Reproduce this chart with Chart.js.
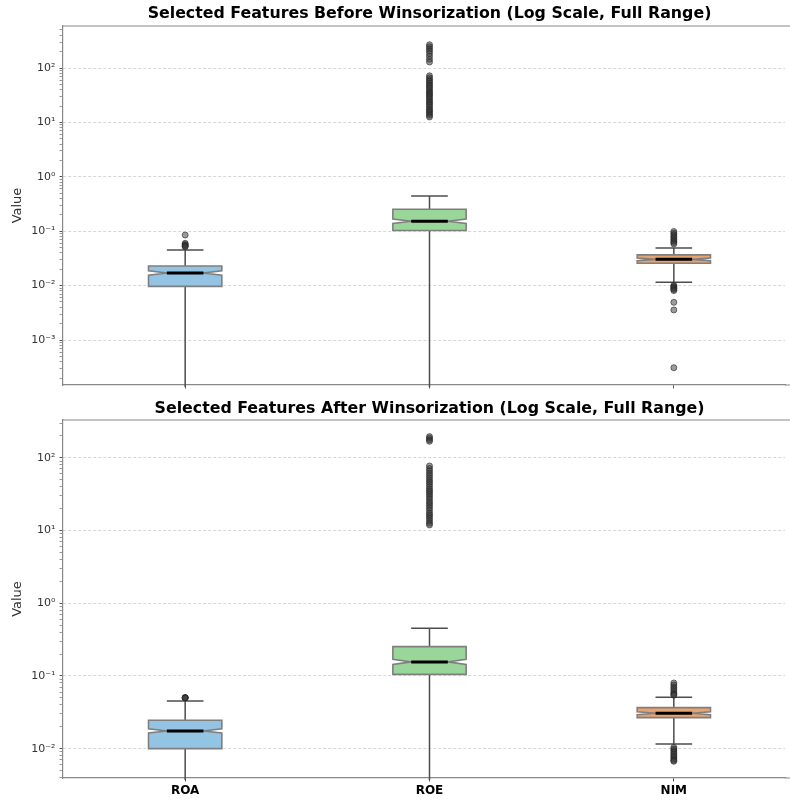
<!DOCTYPE html>
<html>
<head>
<meta charset="utf-8">
<script src="https://cdn.jsdelivr.net/npm/chart.js@4.4.1/dist/chart.umd.min.js"></script>
<style>
  html, body { margin: 0; padding: 0; background: #fff; overflow: hidden; }
  canvas { display: block; }
</style>
</head>
<body>
<canvas id="beforeChart" width="790" height="397"></canvas>
<canvas id="afterChart" width="790" height="403"></canvas>
<script>
// Kategori fitur
const features = ['ROA', 'ROE', 'NIM'];

// Statistik box sebelum winsorization
const beforeQ1 = [0.0097, 0.103, 0.0257];
const beforeMedian = [0.0171, 0.153, 0.0304];
const beforeQ3 = [0.023, 0.254, 0.0367];
const beforeNotchLo = [0.0156, 0.139, 0.0287];
const beforeNotchHi = [0.0188, 0.168, 0.0322];
const beforeWhiskerLo = [0.000001, 0.000001, 0.0115];
const beforeWhiskerHi = [0.0453, 0.446, 0.0493];

// Outlier sebelum winsorization
const beforeOutROA = [0.085, 0.06, 0.057, 0.055, 0.053, 0.052];
const beforeOutROE = [268, 245, 225, 205, 185, 165, 145, 129, 72, 66, 61, 57, 53, 49, 46, 43, 40, 37, 35,
    33, 31, 29, 27, 25, 23.5, 22, 20.5, 19, 17.5, 16.5, 15.5, 14.5, 13.5, 12.6];
const beforeOutNIM = [0.099, 0.092, 0.086, 0.08, 0.075, 0.07, 0.066, 0.062, 0.0584,
    0.0101, 0.0097, 0.0093, 0.0089, 0.0085, 0.0081, 0.00493, 0.00357, 0.00031];

// Statistik box sesudah winsorization
const afterQ1 = [0.01, 0.105, 0.0267];
const afterMedian = [0.0175, 0.156, 0.0307];
const afterQ3 = [0.0246, 0.253, 0.0366];
const afterNotchLo = [0.0164, 0.144, 0.0293];
const afterNotchHi = [0.0187, 0.169, 0.0322];
const afterWhiskerLo = [0.000001, 0.000001, 0.0116];
const afterWhiskerHi = [0.0453, 0.453, 0.0509];

// Outlier sesudah winsorization
const afterOutROA = [0.0505, 0.0502, 0.05, 0.0498];
const afterOutROE = [195, 185, 176, 168, 77, 71, 66, 61, 57, 53, 49, 46, 43, 40, 37, 35, 33, 31, 29,
    27, 25, 23.5, 22, 20.5, 19, 17.5, 16.5, 15.5, 14.5, 13.5, 12.6, 11.9];
const afterOutNIM = [0.08, 0.075, 0.07, 0.066, 0.062, 0.058, 0.056, 0.0543,
    0.0104, 0.0099, 0.0094, 0.0089, 0.0084, 0.008, 0.0076, 0.0072, 0.0069, 0.0067];

const boxFill = ['#93c4e4', '#9ad69a', '#e8a36e'];
const boxWidth = 0.3;
const FONT = 'DejaVu Sans';

const supMap = { '-': '\u207B', '0': '\u2070', '1': '\u00B9', '2': '\u00B2', '3': '\u00B3',
    '4': '\u2074', '5': '\u2075', '6': '\u2076', '7': '\u2077', '8': '\u2078', '9': '\u2079' };
function sup(n) {
    return String(n).split('').map(c => supMap[c]).join('');
}

// Plugin untuk menggambar box bernotch dan judul
function boxPlugin(stats, title, titleY) {
    return {
        id: 'notchedBoxes',
        beforeDatasetsDraw(chart) {
            const { ctx, chartArea: a, scales: { x, y } } = chart;
            ctx.save();
            ctx.beginPath();
            ctx.rect(a.left, a.top, a.right - a.left, a.bottom - a.top + 2);
            ctx.clip();
            stats.median.forEach((m, i) => {
                const pos = i + 1;
                const cx = x.getPixelForValue(pos);
                const hw = x.getPixelForValue(pos + boxWidth / 2) - cx;
                const nw = hw / 2;
                const pq1 = y.getPixelForValue(stats.q1[i]);
                const pq3 = y.getPixelForValue(stats.q3[i]);
                const pm = y.getPixelForValue(m);
                const pnl = y.getPixelForValue(stats.notchLo[i]);
                const pnh = y.getPixelForValue(stats.notchHi[i]);
                const pwl = y.getPixelForValue(stats.whiskerLo[i]);
                const pwh = y.getPixelForValue(stats.whiskerHi[i]);

                // whisker
                ctx.strokeStyle = '#4d4d4d';
                ctx.lineWidth = 1.5;
                ctx.beginPath();
                ctx.moveTo(cx, pq1); ctx.lineTo(cx, pwl);
                ctx.moveTo(cx, pq3); ctx.lineTo(cx, pwh);
                ctx.moveTo(cx - nw, pwl); ctx.lineTo(cx + nw, pwl);
                ctx.moveTo(cx - nw, pwh); ctx.lineTo(cx + nw, pwh);
                ctx.stroke();

                // box
                ctx.beginPath();
                ctx.moveTo(cx - hw, pq1);
                ctx.lineTo(cx + hw, pq1);
                ctx.lineTo(cx + hw, pnl);
                ctx.lineTo(cx + nw, pm);
                ctx.lineTo(cx + hw, pnh);
                ctx.lineTo(cx + hw, pq3);
                ctx.lineTo(cx - hw, pq3);
                ctx.lineTo(cx - hw, pnh);
                ctx.lineTo(cx - nw, pm);
                ctx.lineTo(cx - hw, pnl);
                ctx.closePath();
                ctx.fillStyle = boxFill[i];
                ctx.fill();
                ctx.strokeStyle = '#7f7f7f';
                ctx.lineWidth = 1.6;
                ctx.stroke();

                // median
                ctx.strokeStyle = '#000';
                ctx.lineWidth = 3;
                ctx.beginPath();
                ctx.moveTo(cx - nw, pm);
                ctx.lineTo(cx + nw, pm);
                ctx.stroke();
            });
            ctx.restore();
        },
        afterDraw(chart) {
            const { ctx, chartArea: a, scales: { x } } = chart;
            ctx.save();
            ctx.strokeStyle = '#888';
            ctx.lineWidth = 1.2;
            ctx.beginPath();
            ctx.moveTo(a.left, a.top);
            ctx.lineTo(chart.width, a.top);
            ctx.moveTo(a.right, a.bottom);
            ctx.lineTo(chart.width, a.bottom);
            ctx.stroke();
            // judul di tengah sumbu x (0.5 - 3.5)
            const cx = (x.getPixelForValue(0.5) + x.getPixelForValue(3.5)) / 2;
            ctx.fillStyle = '#000';
            ctx.font = 'bold 15.8px "DejaVu Sans"';
            ctx.textAlign = 'center';
            ctx.textBaseline = 'middle';
            ctx.fillText(title, cx, titleY);
            ctx.restore();
        }
    };
}

function buildPanel(id, title, stats, outliers, yMin, yMax, showLabels, topPad, titleY, xHeight) {
    const points = [];
    outliers.forEach((list, i) => {
        list.forEach(v => points.push({ x: i + 1, y: v }));
    });

    new Chart(document.getElementById(id), {
        type: 'scatter',
        data: {
            datasets: [{
                data: points,
                pointRadius: 3,
                pointBackgroundColor: 'rgba(55,55,55,0.5)',
                pointBorderColor: 'rgba(35,35,35,0.6)',
                pointBorderWidth: 1
            }]
        },
        options: {
            responsive: false,
            animation: false,
            layout: { padding: { left: 0, right: 0, top: topPad, bottom: 0 } },
            plugins: {
                legend: { display: false },
                tooltip: { enabled: false },
                title: { display: false }
            },
            scales: {
                x: {
                    type: 'linear',
                    min: 0.5,
                    max: 3.455,
                    afterBuildTicks: s => { s.ticks = features.map((f, i) => ({ value: i + 1 })); },
                    afterFit: s => { s.height = xHeight; },
                    grid: {
                        color: 'rgba(0,0,0,0)',
                        drawOnChartArea: false,
                        drawTicks: true,
                        tickLength: 3.5,
                        tickColor: '#555'
                    },
                    border: { display: true, color: '#888', width: 1.2 },
                    ticks: {
                        padding: 2,
                        color: '#000',
                        font: { family: FONT, size: 12, weight: 'bold' },
                        callback: v => showLabels ? features[v - 1] : ''
                    }
                },
                y: {
                    type: 'logarithmic',
                    min: yMin,
                    max: yMax,
                    afterBuildTicks: s => {
                        const t = [];
                        for (let e = -5; e <= 3; e++) {
                            for (let m = 1; m <= 9; m++) {
                                const v = m * Math.pow(10, e);
                                if (v >= yMin && v <= yMax) t.push({ value: v, major: m === 1, exp: e });
                            }
                        }
                        s.ticks = t;
                    },
                    afterFit: s => { s.width = 63; },
                    title: {
                        display: true,
                        text: 'Value',
                        color: '#333',
                        font: { family: FONT, size: 13 },
                        padding: { top: 10, bottom: 0 }
                    },
                    grid: {
                        color: c => (c.tick && c.tick.major) ? '#cccccc' : 'rgba(0,0,0,0)',
                        lineWidth: 0.8,
                        drawTicks: true,
                        tickLength: 3.5,
                        tickColor: '#555',
                        tickWidth: c => (c.tick && c.tick.major) ? 1 : 0.6
                    },
                    border: { display: true, color: '#888', width: 1.2, dash: [3, 2] },
                    ticks: {
                        autoSkip: false,
                        padding: 4,
                        color: '#333',
                        font: { family: FONT, size: 11 },
                        callback: (v, i, ticks) => ticks[i].major ? '10' + sup(ticks[i].exp) : ''
                    }
                }
            }
        },
        plugins: [boxPlugin(stats, title, titleY)]
    });
}

document.addEventListener('DOMContentLoaded', function () {
    buildPanel('beforeChart', 'Selected Features Before Winsorization (Log Scale, Full Range)',
        { q1: beforeQ1, median: beforeMedian, q3: beforeQ3, notchLo: beforeNotchLo, notchHi: beforeNotchHi,
          whiskerLo: beforeWhiskerLo, whiskerHi: beforeWhiskerHi },
        [beforeOutROA, beforeOutROE, beforeOutNIM],
        0.000149, 592, false, 26, 14, 12);

    buildPanel('afterChart', 'Selected Features After Winsorization (Log Scale, Full Range)',
        { q1: afterQ1, median: afterMedian, q3: afterQ3, notchLo: afterNotchLo, notchHi: afterNotchHi,
          whiskerLo: afterWhiskerLo, whiskerHi: afterWhiskerHi },
        [afterOutROA, afterOutROE, afterOutNIM],
        0.00395, 330, true, 23, 11.5, 22);
});
</script>
</body>
</html>
